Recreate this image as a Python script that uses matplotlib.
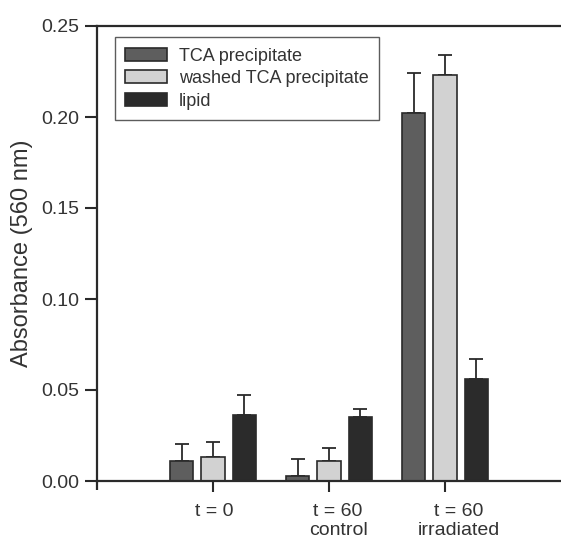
import matplotlib
matplotlib.use("Agg")
import matplotlib.pyplot as plt
import matplotlib.transforms as mtransforms
import numpy as np

plt.rcParams['font.family'] = ['Liberation Sans', 'DejaVu Sans']

categories = ["t = 0", "t = 60\ncontrol", "t = 60\nirradiated"]
series_names = ["TCA precipitate", "washed TCA precipitate", "lipid"]
tca = [0.011, 0.0027, 0.202]
tca_err = [0.0095, 0.0092, 0.022]
washed = [0.0134, 0.011, 0.223]
washed_err = [0.0082, 0.007, 0.011]
lipid = [0.0365, 0.0353, 0.056]
lipid_err = [0.011, 0.0041, 0.011]
yticks = [0.00, 0.05, 0.10, 0.15, 0.20, 0.25]

colors = ["#5e5e5e", "#d2d2d2", "#2b2b2b"]
edge = "#2a2a2a"

fig = plt.figure(figsize=(5.61, 5.43), dpi=100)
ax = fig.add_axes([97/561, 1-481/543, 1-97/561, (481-26)/543])

x = np.arange(1, len(categories)+1)
offsets = [-0.27, 0.0, 0.27]
width = 0.2
for vals, errs, off, col, name in zip([tca, washed, lipid], [tca_err, washed_err, lipid_err],
                                       offsets, colors, series_names):
    ax.bar(x + off, vals, width, color=col, edgecolor=edge, linewidth=1.2, label=name, zorder=2)
    ax.errorbar(x + off, vals, yerr=[np.zeros(len(vals)), errs], fmt='none',
                ecolor=edge, elinewidth=1.3, capsize=5, capthick=1.3, zorder=1)

ax.set_xlim(0, 4)
ax.set_ylim(0, 0.25)
ax.set_yticks(yticks)
ax.set_yticklabels([f"{v:.2f}" for v in yticks])
ax.set_xticks(x)
ax.set_xticklabels(categories, linespacing=1.12)
ax.tick_params(axis='y', direction='out', length=9, width=1.5, labelsize=14, pad=4, colors='#2a2a2a')
ax.tick_params(axis='x', direction='out', length=8, width=1.5, labelsize=14, pad=8, colors='#2a2a2a')
for lab in ax.get_xticklabels() + ax.get_yticklabels():
    lab.set_color('#333333')
# slight horizontal shifts of category labels as in the original figure
for lab, dx in zip(ax.get_xticklabels(), [1, 9, 14]):
    lab.set_transform(lab.get_transform() + mtransforms.ScaledTranslation(dx/100, 0, fig.dpi_scale_trans))

for s in ['left', 'bottom', 'top']:
    ax.spines[s].set_linewidth(1.6)
    ax.spines[s].set_color('#2a2a2a')
ax.spines['right'].set_visible(False)
ax.plot([0, 0], [-0.005, 0], color='#2a2a2a', lw=1.6, clip_on=False, solid_capstyle='butt')

ax.set_ylabel("Absorbance (560 nm)", fontsize=17, color='#333333', labelpad=6)

leg = ax.legend(loc='upper left', bbox_to_anchor=(0.038, 0.976), fontsize=13,
                frameon=True, fancybox=False, handlelength=2.3, handleheight=0.72,
                handletextpad=0.65, labelspacing=0.3, borderpad=0.6, borderaxespad=0)
leg.get_frame().set_edgecolor('#333333')
leg.get_frame().set_linewidth(1.0)
for t in leg.get_texts():
    t.set_color('#333333')

fig.savefig("out.png", dpi=100)
